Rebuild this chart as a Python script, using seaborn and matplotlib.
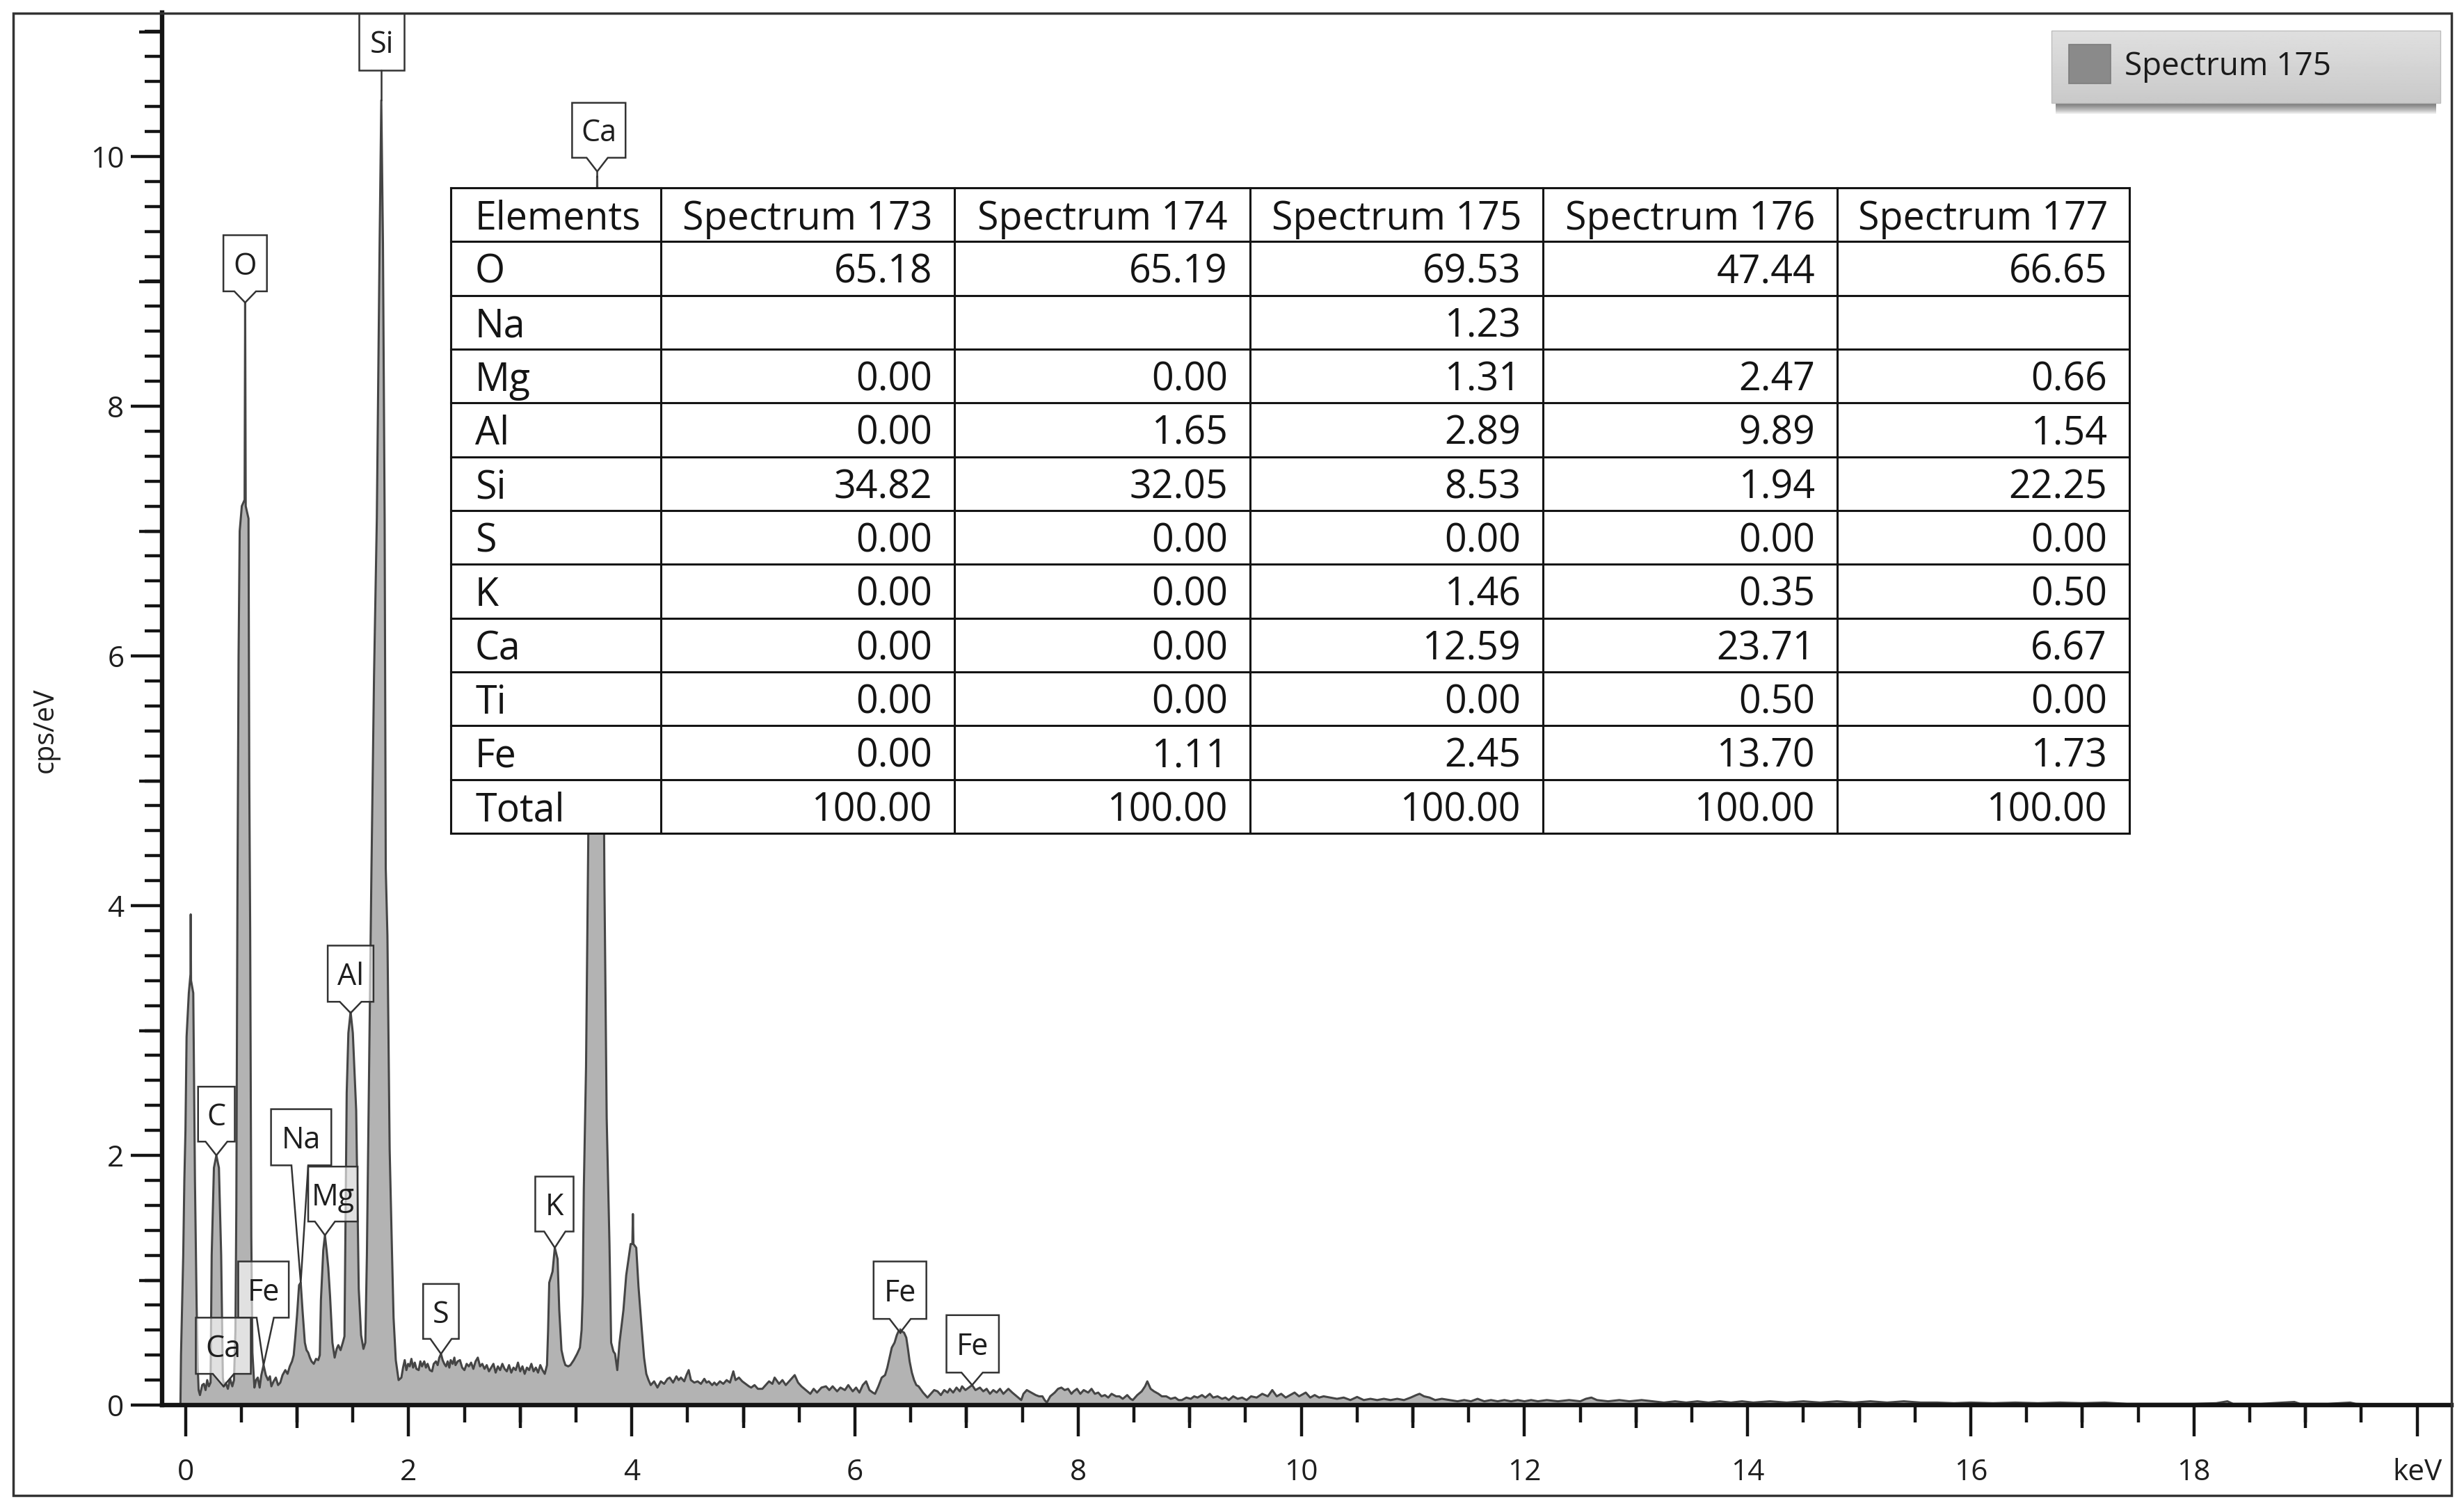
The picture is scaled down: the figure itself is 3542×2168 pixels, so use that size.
import matplotlib
matplotlib.use("Agg")
import numpy as np
import pandas as pd
import matplotlib.pyplot as plt
import seaborn as sns
from matplotlib.patches import Rectangle, Polygon
from matplotlib.lines import Line2D
from matplotlib.ticker import MultipleLocator, FixedLocator

# ---------------------------------------------------------------- data
energy_kev = [
    -0.045, -0.040, -0.030, -0.020, -0.010, 0.000, 0.010, 0.030, 0.045, 0.047, 0.050, 0.070, 0.085, 0.100,
    0.110, 0.118, 0.130, 0.150, 0.165, 0.180, 0.195, 0.210, 0.225, 0.235, 0.255, 0.277, 0.300, 0.320,
    0.335, 0.345, 0.360, 0.380, 0.400, 0.420, 0.435, 0.448, 0.456, 0.466, 0.476, 0.486, 0.505, 0.530,
    0.535, 0.540, 0.565, 0.572, 0.580, 0.590, 0.600, 0.618, 0.633, 0.648, 0.665, 0.680, 0.700, 0.720,
    0.740, 0.757, 0.770, 0.790, 0.810, 0.830, 0.850, 0.870, 0.895, 0.915, 0.935, 0.955, 0.970, 0.985,
    1.000, 1.018, 1.033, 1.049, 1.070, 1.085, 1.100, 1.115, 1.130, 1.150, 1.170, 1.190, 1.204, 1.214,
    1.235, 1.250, 1.265, 1.280, 1.296, 1.317, 1.337, 1.355, 1.370, 1.390, 1.410, 1.425, 1.435, 1.445,
    1.460, 1.480, 1.500, 1.530, 1.553, 1.574, 1.595, 1.612, 1.626, 1.646, 1.667, 1.690, 1.715, 1.740,
    1.755, 1.770, 1.785, 1.795, 1.810, 1.830, 1.850, 1.865, 1.885, 1.910, 1.935, 1.950, 1.965, 1.980,
    1.995, 2.010, 2.025, 2.040, 2.055, 2.070, 2.090, 2.105, 2.120, 2.140, 2.155, 2.170, 2.190, 2.210,
    2.225, 2.245, 2.260, 2.275, 2.290, 2.305, 2.320, 2.335, 2.350, 2.365, 2.377, 2.395, 2.410, 2.420,
    2.440, 2.460, 2.480, 2.500, 2.520, 2.540, 2.560, 2.580, 2.600, 2.620, 2.640, 2.660, 2.680, 2.700,
    2.720, 2.740, 2.760, 2.780, 2.800, 2.820, 2.840, 2.860, 2.880, 2.900, 2.920, 2.940, 2.960, 2.980,
    3.000, 3.020, 3.040, 3.060, 3.080, 3.100, 3.120, 3.140, 3.160, 3.180, 3.200, 3.220, 3.240, 3.250,
    3.260, 3.290, 3.310, 3.335, 3.350, 3.370, 3.390, 3.405, 3.430, 3.450, 3.480, 3.510, 3.535, 3.550,
    3.560, 3.570, 3.590, 3.610, 3.640, 3.665, 3.685, 3.690, 3.695, 3.715, 3.735, 3.755, 3.775, 3.800,
    3.815, 3.835, 3.850, 3.870, 3.890, 3.925, 3.950, 3.990, 4.005, 4.010, 4.015, 4.040, 4.060, 4.090,
    4.110, 4.130, 4.150, 4.170, 4.200, 4.230, 4.260, 4.290, 4.320, 4.340, 4.370, 4.400, 4.420, 4.440,
    4.470, 4.490, 4.510, 4.530, 4.560, 4.590, 4.620, 4.650, 4.670, 4.690, 4.720, 4.740, 4.760, 4.790,
    4.820, 4.850, 4.880, 4.910, 4.930, 4.960, 4.990, 5.020, 5.050, 5.070, 5.100, 5.130, 5.170, 5.200,
    5.230, 5.260, 5.280, 5.320, 5.350, 5.380, 5.410, 5.440, 5.460, 5.490, 5.520, 5.560, 5.600, 5.630,
    5.660, 5.700, 5.740, 5.770, 5.800, 5.840, 5.870, 5.910, 5.940, 5.980, 6.010, 6.040, 6.070, 6.100,
    6.130, 6.160, 6.180, 6.210, 6.240, 6.270, 6.290, 6.310, 6.330, 6.355, 6.375, 6.395, 6.405, 6.420,
    6.440, 6.460, 6.475, 6.490, 6.510, 6.530, 6.550, 6.570, 6.610, 6.650, 6.680, 6.710, 6.740, 6.770,
    6.800, 6.830, 6.850, 6.880, 6.910, 6.940, 6.960, 6.990, 7.020, 7.050, 7.080, 7.120, 7.150, 7.180,
    7.210, 7.240, 7.270, 7.300, 7.330, 7.375, 7.410, 7.450, 7.490, 7.510, 7.540, 7.580, 7.620, 7.650,
    7.680, 7.700, 7.720, 7.750, 7.790, 7.820, 7.850, 7.880, 7.910, 7.940, 7.960, 7.990, 8.020, 8.050,
    8.090, 8.120, 8.150, 8.180, 8.210, 8.240, 8.270, 8.300, 8.340, 8.370, 8.400, 8.440, 8.470, 8.490,
    8.530, 8.570, 8.600, 8.620, 8.650, 8.680, 8.720, 8.750, 8.790, 8.830, 8.870, 8.900, 8.930, 8.970,
    9.010, 9.040, 9.070, 9.110, 9.140, 9.180, 9.210, 9.250, 9.290, 9.320, 9.350, 9.390, 9.430, 9.470,
    9.510, 9.550, 9.600, 9.650, 9.700, 9.740, 9.780, 9.820, 9.860, 9.900, 9.940, 9.980, 10.020, 10.040,
    10.080, 10.120, 10.160, 10.200, 10.260, 10.320, 10.380, 10.440, 10.500, 10.560, 10.620, 10.680, 10.740, 10.800,
    10.860, 10.920, 10.980, 11.030, 11.060, 11.100, 11.150, 11.200, 11.260, 11.330, 11.400, 11.460, 11.520, 11.580,
    11.640, 11.700, 11.760, 11.820, 11.880, 11.940, 12.000, 12.060, 12.120, 12.200, 12.300, 12.400, 12.500, 12.550,
    12.600, 12.650, 12.750, 12.850, 12.940, 13.050, 13.150, 13.250, 13.350, 13.450, 13.550, 13.650, 13.750, 13.850,
    13.950, 14.050, 14.200, 14.350, 14.500, 14.650, 14.800, 14.950, 15.100, 15.250, 15.400, 15.550, 15.700, 15.850,
    16.000, 16.200, 16.400, 16.600, 16.800, 17.000, 17.200, 17.400, 17.600, 17.800, 18.000, 18.200, 18.300, 18.350,
    18.600, 18.900, 18.950, 19.200, 19.400, 19.450, 19.600, 19.700,
]
counts_cps = [
    0.00, 0.40, 0.80, 1.20, 1.80, 2.20, 2.95, 3.30, 3.45, 3.93, 3.40, 3.30, 1.80, 0.80,
    0.30, 0.12, 0.08, 0.16, 0.17, 0.12, 0.20, 0.15, 0.18, 1.20, 1.90, 2.00, 1.90, 1.20,
    0.22, 0.15, 0.18, 0.13, 0.21, 0.15, 0.20, 0.60, 1.60, 4.10, 6.00, 7.00, 7.20, 7.25,
    8.83, 7.20, 7.10, 5.00, 3.80, 1.35, 0.42, 0.14, 0.20, 0.22, 0.14, 0.24, 0.32, 0.24,
    0.20, 0.23, 0.15, 0.19, 0.22, 0.16, 0.18, 0.24, 0.28, 0.25, 0.31, 0.35, 0.40, 0.55,
    0.72, 0.96, 0.98, 0.76, 0.50, 0.44, 0.42, 0.38, 0.35, 0.33, 0.37, 0.36, 0.40, 0.84,
    1.24, 1.36, 1.24, 1.10, 0.87, 0.50, 0.38, 0.45, 0.48, 0.44, 0.50, 0.55, 1.50, 2.50,
    2.98, 3.15, 2.98, 2.36, 0.93, 0.56, 0.45, 0.50, 1.20, 2.70, 4.30, 5.84, 7.10, 9.30,
    10.45, 9.30, 7.10, 4.30, 3.76, 2.05, 1.26, 0.70, 0.36, 0.20, 0.22, 0.30, 0.36, 0.28,
    0.33, 0.31, 0.37, 0.30, 0.34, 0.29, 0.28, 0.35, 0.31, 0.35, 0.30, 0.33, 0.28, 0.27,
    0.33, 0.35, 0.32, 0.38, 0.41, 0.36, 0.33, 0.31, 0.35, 0.30, 0.36, 0.33, 0.38, 0.32,
    0.35, 0.36, 0.30, 0.28, 0.33, 0.31, 0.34, 0.29, 0.35, 0.38, 0.31, 0.33, 0.29, 0.32,
    0.27, 0.30, 0.33, 0.26, 0.31, 0.28, 0.33, 0.29, 0.27, 0.32, 0.26, 0.30, 0.28, 0.34,
    0.27, 0.31, 0.25, 0.30, 0.28, 0.33, 0.27, 0.30, 0.26, 0.32, 0.28, 0.25, 0.32, 0.60,
    0.98, 1.07, 1.26, 1.17, 0.76, 0.44, 0.36, 0.32, 0.31, 0.32, 0.36, 0.41, 0.46, 0.60,
    0.88, 1.73, 2.71, 4.54, 7.20, 8.90, 9.20, 9.84, 9.20, 8.90, 6.90, 4.16, 2.30, 1.29,
    0.50, 0.43, 0.41, 0.28, 0.50, 0.76, 1.04, 1.29, 1.29, 1.53, 1.29, 1.26, 0.95, 0.60,
    0.38, 0.25, 0.20, 0.16, 0.19, 0.14, 0.19, 0.17, 0.21, 0.22, 0.18, 0.23, 0.20, 0.22,
    0.19, 0.24, 0.28, 0.20, 0.18, 0.19, 0.17, 0.21, 0.18, 0.19, 0.16, 0.18, 0.16, 0.19,
    0.17, 0.20, 0.18, 0.27, 0.20, 0.22, 0.19, 0.17, 0.15, 0.14, 0.16, 0.13, 0.13, 0.16,
    0.19, 0.17, 0.22, 0.17, 0.20, 0.16, 0.19, 0.22, 0.24, 0.18, 0.15, 0.12, 0.09, 0.13,
    0.10, 0.14, 0.15, 0.12, 0.15, 0.11, 0.14, 0.12, 0.16, 0.11, 0.14, 0.10, 0.16, 0.19,
    0.12, 0.10, 0.09, 0.15, 0.22, 0.24, 0.30, 0.38, 0.46, 0.50, 0.56, 0.60, 0.61, 0.59,
    0.58, 0.54, 0.45, 0.35, 0.26, 0.20, 0.16, 0.15, 0.10, 0.06, 0.09, 0.12, 0.11, 0.08,
    0.12, 0.10, 0.13, 0.10, 0.14, 0.11, 0.15, 0.12, 0.14, 0.16, 0.12, 0.14, 0.11, 0.13,
    0.09, 0.12, 0.10, 0.13, 0.09, 0.13, 0.10, 0.07, 0.04, 0.09, 0.12, 0.10, 0.08, 0.07,
    0.07, 0.04, 0.02, 0.07, 0.10, 0.13, 0.14, 0.12, 0.13, 0.09, 0.11, 0.13, 0.09, 0.12,
    0.10, 0.13, 0.09, 0.10, 0.07, 0.08, 0.06, 0.09, 0.07, 0.07, 0.05, 0.08, 0.05, 0.04,
    0.08, 0.11, 0.15, 0.19, 0.13, 0.11, 0.09, 0.07, 0.07, 0.05, 0.06, 0.04, 0.04, 0.06,
    0.05, 0.07, 0.06, 0.08, 0.06, 0.09, 0.06, 0.07, 0.05, 0.06, 0.04, 0.07, 0.05, 0.06,
    0.04, 0.07, 0.06, 0.09, 0.07, 0.12, 0.07, 0.09, 0.06, 0.08, 0.10, 0.07, 0.09, 0.10,
    0.06, 0.08, 0.06, 0.07, 0.06, 0.05, 0.06, 0.04, 0.065, 0.04, 0.05, 0.04, 0.05, 0.04,
    0.05, 0.04, 0.06, 0.08, 0.09, 0.07, 0.06, 0.04, 0.05, 0.04, 0.03, 0.04, 0.03, 0.05,
    0.03, 0.04, 0.03, 0.04, 0.03, 0.04, 0.03, 0.04, 0.03, 0.04, 0.03, 0.04, 0.03, 0.05,
    0.06, 0.04, 0.03, 0.04, 0.03, 0.04, 0.03, 0.02, 0.03, 0.02, 0.03, 0.02, 0.03, 0.02,
    0.03, 0.02, 0.03, 0.02, 0.03, 0.02, 0.03, 0.02, 0.03, 0.02, 0.03, 0.02, 0.02, 0.015,
    0.02, 0.015, 0.02, 0.015, 0.02, 0.015, 0.02, 0.01, 0.01, 0.01, 0.01, 0.015, 0.03, 0.01,
    0.01, 0.025, 0.01, 0.01, 0.02, 0.01, 0.005, 0.00,
]

# element markers: label, peak energy (keV), peak height (cps/eV)
marker_elements = ["Si", "Ca", "O", "Al", "C", "Na", "Mg", "Fe", "Ca", "S", "K", "Fe", "Fe"]
marker_kev = [1.755, 3.690, 0.535, 1.480, 0.277, 1.033, 1.250, 0.700, 0.340, 2.290, 3.310, 6.405, 7.050]
marker_cps = [10.45, 9.84, 8.83, 3.15, 2.00, 0.98, 1.36, 0.32, 0.15, 0.41, 1.26, 0.61, 0.16]

# quantification table
table_header = ["Elements", "Spectrum 173", "Spectrum 174", "Spectrum 175", "Spectrum 176", "Spectrum 177"]
table_elements = ["O", "Na", "Mg", "Al", "Si", "S", "K", "Ca", "Ti", "Fe", "Total"]
spectrum_173 = [65.18, None, 0.00, 0.00, 34.82, 0.00, 0.00, 0.00, 0.00, 0.00, 100.00]
spectrum_174 = [65.19, None, 0.00, 1.65, 32.05, 0.00, 0.00, 0.00, 0.00, 1.11, 100.00]
spectrum_175 = [69.53, 1.23, 1.31, 2.89, 8.53, 0.00, 1.46, 12.59, 0.00, 2.45, 100.00]
spectrum_176 = [47.44, None, 2.47, 9.89, 1.94, 0.00, 0.35, 23.71, 0.50, 13.70, 100.00]
spectrum_177 = [66.65, None, 0.66, 1.54, 22.25, 0.00, 0.50, 6.67, 0.00, 1.73, 100.00]

x_tick_values = [0, 2, 4, 6, 8, 10, 12, 14, 16, 18, 20]
x_tick_labels = ["0", "2", "4", "6", "8", "10", "12", "14", "16", "18", "keV"]
y_tick_values = [0, 2, 4, 6, 8, 10]
y_axis_label = "cps/eV"
legend_label = "Spectrum 175"

# ---------------------------------------------------------------- layout / style
W, H, DPI = 3542, 2168, 100
sns.set_theme(style="ticks")
plt.rcParams['font.family'] = ['Open Sans', 'DejaVu Sans']

FILL = '#b3b3b3'
LINE = '#454545'
INK = '#141414'

# axes geometry in pixels (figure), and the data scale
AX_L, AX_R, AX_T, AX_B = 233, 3524, 18, 2020
PX_PER_KEV, KEV0_PX, PX_PER_CPS = 160.4, 266.6, 179.5
XMIN = (AX_L - KEV0_PX) / PX_PER_KEV
XMAX = (AX_R - KEV0_PX) / PX_PER_KEV
YMAX = (AX_B - AX_T) / PX_PER_CPS

# callout boxes (x0, x1, y0, y1, notch_left, notch_right, tip_x, tip_y) in data units
callouts = [
    (1.555, 1.960, 10.69, 11.30, 1.755, 1.755, 1.755, 10.69),   # Si
    (3.465, 3.944, 9.99, 10.43, 3.595, 3.785, 3.690, 9.88),     # Ca
    (0.340, 0.730, 8.92, 9.37, 0.438, 0.632, 0.535, 8.83),      # O
    (1.275, 1.685, 3.23, 3.68, 1.383, 1.577, 1.480, 3.14),      # Al
    (0.113, 0.442, 2.11, 2.55, 0.180, 0.375, 0.277, 2.00),      # C
    (0.767, 1.307, 1.92, 2.37, 0.950, 1.100, 1.033, 0.98),      # Na
    (1.100, 1.543, 1.47, 1.91, 1.160, 1.340, 1.250, 1.36),      # Mg
    (0.473, 0.926, 0.70, 1.15, 0.638, 0.792, 0.700, 0.32),      # Fe (L)
    (0.093, 0.586, 0.25, 0.70, 0.245, 0.435, 0.340, 0.15),      # Ca (L)
    (2.130, 2.450, 0.53, 0.97, 2.195, 2.385, 2.290, 0.41),      # S
    (3.135, 3.478, 1.39, 1.83, 3.215, 3.405, 3.310, 1.26),      # K
    (6.167, 6.640, 0.69, 1.15, 6.310, 6.500, 6.405, 0.58),      # Fe K-alpha
    (6.820, 7.290, 0.26, 0.72, 6.955, 7.145, 7.050, 0.16),      # Fe K-beta
]

fig = plt.figure(figsize=(W / DPI, H / DPI), dpi=DPI)
fig.patch.set_facecolor('white')

ax = fig.add_axes([AX_L / W, 1 - AX_B / H, (AX_R - AX_L) / W, (AX_B - AX_T) / H])
ax.set_facecolor('white')

df = pd.DataFrame({"keV": energy_kev, "cps": counts_cps})
ax.fill_between(df["keV"], df["cps"], 0, color=FILL, linewidth=0, zorder=2)
sns.lineplot(data=df, x="keV", y="cps", ax=ax, color=LINE, linewidth=2.2,
             estimator=None, sort=False, zorder=2.5)

ax.set_xlim(XMIN, XMAX)
ax.set_ylim(0, YMAX)
ax.set_xlabel("")
ax.set_ylabel("")

for side in ["top", "right"]:
    ax.spines[side].set_visible(False)
for side in ["left", "bottom"]:
    ax.spines[side].set_linewidth(4.6)
    ax.spines[side].set_color(INK)
    ax.spines[side].set_zorder(6)
    ax.spines[side].set_capstyle('projecting')

ax.xaxis.set_major_locator(FixedLocator(x_tick_values))
ax.set_xticklabels(x_tick_labels)
ax.xaxis.set_minor_locator(MultipleLocator(0.5))
ax.yaxis.set_major_locator(FixedLocator(y_tick_values))
ax.set_yticklabels([str(v) for v in y_tick_values])
ax.yaxis.set_minor_locator(MultipleLocator(0.2))
ax.tick_params(axis='both', which='major', length=32.4, width=3.2, color=INK,
               direction='out', labelsize=30.5, labelcolor='#1e1e1e', bottom=True, left=True)
ax.tick_params(axis='both', which='minor', length=18, width=3.2, color=INK,
               direction='out', bottom=True, left=True)
ax.tick_params(axis='x', which='major', pad=22)
ax.tick_params(axis='y', which='major', pad=7)

# medium-length ticks at odd integers
ax_w_px, ax_h_px = AX_R - AX_L, AX_B - AX_T
for v in range(1, 12, 2):
    if v <= YMAX:
        ax.add_line(Line2D([-33 / ax_w_px, 0], [v, v], transform=ax.get_yaxis_transform(),
                           color=INK, lw=3.2, clip_on=False, solid_capstyle='butt', zorder=6))
for v in range(1, 20, 2):
    ax.add_line(Line2D([v, v], [-33 / ax_h_px, 0], transform=ax.get_xaxis_transform(),
                       color=INK, lw=3.2, clip_on=False, solid_capstyle='butt', zorder=6))

# element callouts
for name, pk_x, pk_y, (x0, x1, y0, y1, nl, nr, tx, ty) in zip(marker_elements, marker_kev, marker_cps, callouts):
    pts = [(x0, y0), (nl, y0), (tx, ty), (nr, y0), (x1, y0), (x1, y1), (x0, y1)]
    ax.add_patch(Polygon(pts, closed=True, facecolor=(1, 1, 1, 0.62), edgecolor='#333333',
                         linewidth=1.8, zorder=3, joinstyle='miter'))
    if abs(ty - pk_y) > 0.02:
        ax.add_line(Line2D([tx, pk_x], [ty, pk_y], color='#333333', lw=1.8, zorder=3))
    cy = (y0 + min(y1, YMAX)) / 2
    ax.text((x0 + x1) / 2, cy - 0.09, name, ha='center', va='baseline', fontsize=31,
            color='#1e1e1e', zorder=4)

# ---------------------------------------------------------------- table
TB_L, TB_R, TB_T, TB_B = 648, 3061, 270, 1198
tax = fig.add_axes([TB_L / W, 1 - TB_B / H, (TB_R - TB_L) / W, (TB_B - TB_T) / H])
tax.set_zorder(5)
tax.set_facecolor('white')
tax.set_xlim(0, TB_R - TB_L)
tax.set_ylim(TB_B - TB_T, 0)
tax.set_xticks([])
tax.set_yticks([])
for s in tax.spines.values():
    s.set_visible(False)

col_edges = [0, 301.5, 724, 1149, 1570, 1993, TB_R - TB_L]
n_rows = 1 + len(table_elements)
row_h = (TB_B - TB_T) / n_rows
for xe in col_edges:
    tax.add_line(Line2D([xe, xe], [0, TB_B - TB_T], color=INK, lw=2.2, clip_on=False,
                        solid_capstyle='projecting'))
for r in range(n_rows + 1):
    tax.add_line(Line2D([0, TB_R - TB_L], [r * row_h, r * row_h], color=INK, lw=2.2,
                        clip_on=False, solid_capstyle='projecting'))

TFS = 40
base_off = 0.357 * TFS * DPI / 72 + 1
columns = [spectrum_173, spectrum_174, spectrum_175, spectrum_176, spectrum_177]
for c, head in enumerate(table_header):
    yc = 0.5 * row_h + base_off
    if c == 0:
        tax.text(col_edges[0] + 35, yc, head, ha='left', va='baseline', fontsize=TFS, color=INK)
    else:
        tax.text((col_edges[c] + col_edges[c + 1]) / 2, yc, head, ha='center', va='baseline',
                 fontsize=TFS, color=INK)
for r, el in enumerate(table_elements):
    yc = (r + 1.5) * row_h + base_off
    tax.text(col_edges[0] + 35, yc, el, ha='left', va='baseline', fontsize=TFS, color=INK)
    for c, col in enumerate(columns):
        v = col[r]
        if v is None:
            continue
        tax.text(col_edges[c + 2] - 32, yc, f"{v:.2f}", ha='right', va='baseline',
                 fontsize=TFS, color=INK)

# ---------------------------------------------------------------- overlay: frame, legend, y label
ov = fig.add_axes([0, 0, 1, 1])
ov.set_xlim(0, W)
ov.set_ylim(H, 0)
ov.axis('off')
ov.set_zorder(10)

ov.add_patch(Rectangle((19, 19), 3505, 2131, fill=False, edgecolor='#333333', linewidth=2.5))

ov.text(66, 1050, y_axis_label, rotation=90, ha='center', va='center', fontsize=28.5, color='#1e1e1e')

# legend with drop shadow
LG_L, LG_R, LG_T, LG_B = 2949, 3508, 44, 148
for d in range(1, 17):
    ov.add_patch(Rectangle((LG_L + 6, LG_T + d), LG_R - LG_L - 12, LG_B - LG_T,
                           facecolor='black', edgecolor='none', alpha=0.045))
grad = np.linspace(0.875, 0.79, 64).reshape(-1, 1)
ov.imshow(grad, cmap='gray', vmin=0, vmax=1, extent=[LG_L, LG_R, LG_B, LG_T], aspect='auto', zorder=2)
ov.add_patch(Rectangle((LG_L, LG_T), LG_R - LG_L, LG_B - LG_T, fill=False,
                       edgecolor='#bdbdbd', linewidth=1.0, zorder=3))
ov.add_patch(Rectangle((2974, 64), 60, 56, facecolor='#8a8a8a', edgecolor='#7c7c7c',
                       linewidth=1.2, zorder=4))
ov.text(3054, 108, legend_label, ha='left', va='baseline', fontsize=33, color='#1a1a1a', zorder=5)
ov.set_xlim(0, W)
ov.set_ylim(H, 0)

fig.savefig("out.png", dpi=DPI, facecolor='white')
